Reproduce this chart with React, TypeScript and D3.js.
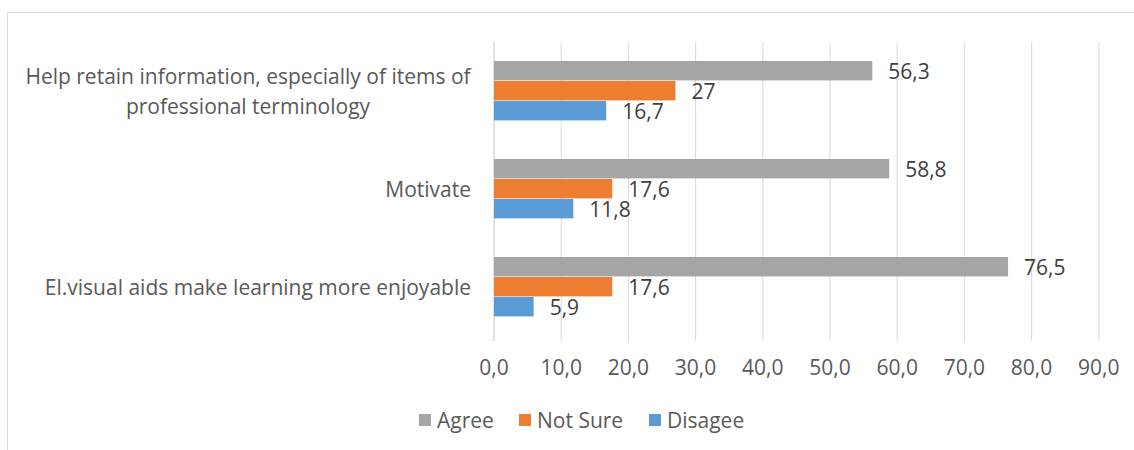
import React from "react";
import * as d3 from "d3";

const categories = [
  ["Help retain information, especially of items of", "professional terminology"],
  ["Motivate"],
  ["El.visual aids make learning more enjoyable"],
];
const categoryKeys = ["help", "motivate", "enjoyable"];
const seriesNames = ["Agree", "Not Sure", "Disagee"];
const seriesColors = ["#a5a5a5", "#ed7d31", "#5b9bd5"];
const agree = [56.3, 58.8, 76.5];
const notSure = [27, 17.6, 17.6];
const disagree = [16.7, 11.8, 5.9];
const xTicks = [0, 10, 20, 30, 40, 50, 60, 70, 80, 90];

const W = 1134;
const H = 450;
const FONT = "'Open Sans', sans-serif";
const FS = 21;

export default function App() {
  const series = [agree, notSure, disagree];
  const x = d3.scaleLinear().domain([0, 90]).range([494, 1098.8]);
  const y = d3
    .scaleBand<string>()
    .domain(categoryKeys)
    .range([42, 336])
    .paddingInner(0.388)
    .paddingOuter(0.194);
  const inner = d3
    .scaleBand<string>()
    .domain(seriesNames)
    .range([0, y.bandwidth()])
    .padding(0);
  const fmt = (v: number) => String(v).replace(".", ",");

  const legendX = [419, 519, 649];

  return (
    <svg
      width={W}
      height={H}
      style={{ position: "absolute", left: 0, top: 0, background: "#fff" }}
      fontFamily={FONT}
    >
      <rect x={7.5} y={12.5} width={W + 10} height={H + 10} fill="#fff" stroke="#d9d9d9" strokeWidth={1} />
      {xTicks.map((t) => (
        <line
          key={t}
          x1={x(t)}
          x2={x(t)}
          y1={42}
          y2={341}
          stroke={t === 0 ? "#c8c8c8" : "#d9d9d9"}
          strokeWidth={1}
        />
      ))}
      {categoryKeys.map((k, ci) =>
        seriesNames.map((s, si) => {
          const v = series[si][ci];
          const y0 = (y(k) as number) + (inner(s) as number);
          return (
            <g key={k + s}>
              <rect
                x={x(0)}
                y={y0}
                width={x(v) - x(0)}
                height={inner.bandwidth() - 0.6}
                fill={seriesColors[si]}
              />
              <text
                x={x(v) + 16}
                y={y0 + inner.bandwidth() / 2}
                dominantBaseline="central"
                fontSize={FS}
                fill="#404040"
              >
                {fmt(v)}
              </text>
            </g>
          );
        })
      )}
      {xTicks.map((t) => (
        <text
          key={"l" + t}
          x={x(t)}
          y={367}
          textAnchor="middle"
          dominantBaseline="central"
          fontSize={FS}
          fill="#595959"
        >
          {t.toFixed(1).replace(".", ",")}
        </text>
      ))}
      {categoryKeys.map((k, ci) => {
        const lines = categories[ci];
        const cy = (y(k) as number) + y.bandwidth() / 2;
        const lh = 30;
        const multi = lines.length > 1;
        return (
          <text
            key={"c" + k}
            fontSize={FS}
            fill="#595959"
            textAnchor={multi ? "middle" : "end"}
            dominantBaseline="central"
          >
            {lines.map((ln, li) => (
              <tspan
                key={li}
                x={multi ? 248 : 471}
                y={cy + (li - (lines.length - 1) / 2) * lh}
              >
                {ln}
              </tspan>
            ))}
          </text>
        );
      })}
      {seriesNames.map((s, si) => (
        <g key={"lg" + s}>
          <rect x={legendX[si]} y={414} width={12} height={12} fill={seriesColors[si]} />
          <text
            x={legendX[si] + 18}
            y={420}
            dominantBaseline="central"
            fontSize={FS}
            fill="#595959"
          >
            {s}
          </text>
        </g>
      ))}
    </svg>
  );
}
